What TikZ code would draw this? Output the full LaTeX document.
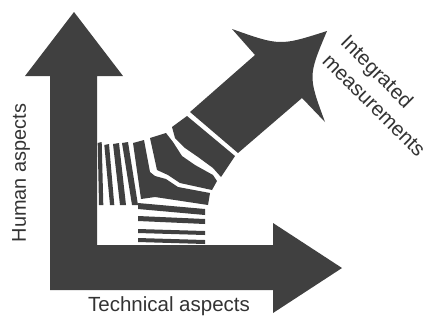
\documentclass[tikz,border=0pt]{standalone}
\usepackage{fontspec}
\setmainfont{Liberation Sans}
\definecolor{ArrowGrey}{RGB}{64,64,64}

\begin{document}
\begin{tikzpicture}[
  x=0.03cm, y=-0.03cm,
  font=\fontsize{17}{22}\selectfont,
  piece/.style={fill=ArrowGrey},
  axislbl/.style={text=ArrowGrey!80!black, inner sep=0pt},
]
\useasboundingbox (0,0) rectangle (431,323);

% ============ AXES (one L-shaped double arrow) ============
\fill[piece] (50,290) -- (50,76) -- (25,76) -- (74,12) -- (123,76) -- (97,76)
  -- (97,245) -- (273,245) -- (273,223) -- (342,268) -- (273,313) -- (273,290) -- cycle;

% ============ DIAGONAL ARROW (concave head) ============
\fill[piece] (190,112) -- (255,55) -- (232,29) .. controls (280,46) .. (327,31)
  .. controls (308,76) .. (325,122) -- (302,98) -- (238,153) -- cycle;

% ============ FAN OF SLICES (tail of the diagonal arrow) ============
% first slice below the gap
\fill[piece] (172,127) -- (187,116) -- (235,156) -- (221,177) -- (213,168)
  -- (198,157) -- (185,148) -- (175,138) -- cycle;
% upper wedge
\fill[piece] (150,138) -- (166,133) -- (173,142) -- (182,156) -- (195,165) -- (213,175)
  -- (217,181) -- (212,190) -- (180,183) -- (168,175) -- (157,170) -- cycle;
% bent slice: vertical part turning into the horizontal part
\fill[piece] (133,143) -- (144,140) -- (150,172) -- (155,176) -- (166,179) -- (178,187)
  -- (210,193) -- (208,205) -- (155,197) -- (141,199) -- cycle;
% vertical stripes: top left/right x, bottom left/right x, top/bottom y
\foreach \tl/\tr/\bl/\br/\ty/\by in {97.7/101.7/99/103.3/143/205, 104.3/109/110/114.3/145/205,
    113/119/120/126/144/205, 122/128/132/138/143/205}
  \fill[piece] (\tl,\ty) -- (\tr,\ty-1) -- (\br,\by) -- (\bl,\by) -- cycle;
% horizontal stripes: left top/bottom y, right top/bottom y
\foreach \lt/\lb/\rt/\rb in {203/209/209/215, 216/221/219/224, 229/233/231/235, 238/242/240/244}
  \fill[piece] (138,\lt) -- (205,\rt) -- (205,\rb) -- (138,\lb) -- cycle;

% ============ LABELS ============
\node[axislbl, rotate=90] (human) at (21,173) {Human aspects};
\node[axislbl, font=\fontsize{17.5}{22}\selectfont] (tech) at (169,306) {Technical aspects};
\node[axislbl, rotate=-45, anchor=north west, align=left,
      font=\fontsize{17.5}{22}\selectfont] (integ) at (350,33)
  {Integrated\\measurements};

\end{tikzpicture}
\end{document}
